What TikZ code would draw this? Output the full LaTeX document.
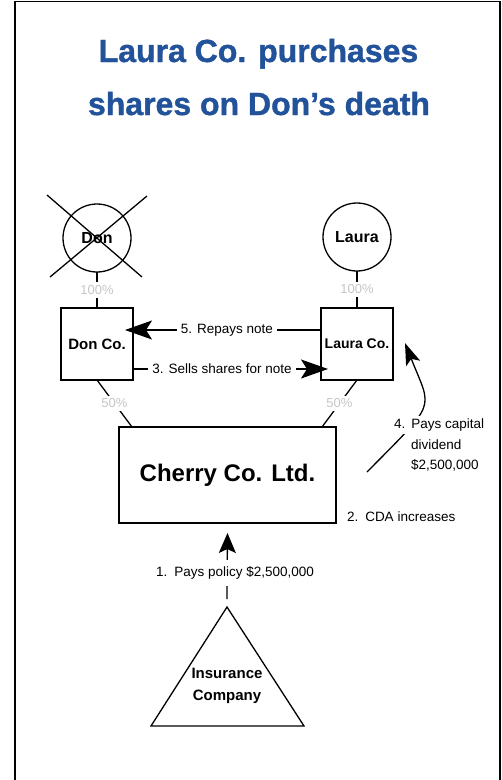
\documentclass[tikz,border=0pt]{standalone}
\usepackage{fontspec}
\setmainfont{Liberation Sans}
\newfontfamily\heavyfont{Liberation Sans}[BoldFeatures={FakeBold=1.2}]
\usetikzlibrary{arrows.meta}
\definecolor{titleblue}{HTML}{22539A}
\begin{document}
\begin{tikzpicture}[x=1pt,y=-1pt, line width=1.3pt,
  every node/.style={inner sep=0pt, outer sep=0pt},
  entity/.style={draw, circle, minimum size=68pt, font=\fontsize{16}{18}\selectfont\bfseries},
  company/.style={draw, minimum width=72pt, minimum height=72pt, font=\fontsize{15}{17}\selectfont\bfseries},
  lbl/.style={font=\fontsize{13.5}{16}\selectfont},
  gap/.style={fill=white, inner xsep=4pt, inner ysep=3pt},
  pct/.style={fill=white, text=gray!45, inner sep=3pt, font=\fontsize{13}{15}\selectfont},
  bigarrow/.style={-{Stealth[length=27pt,width=19pt,inset=6pt]}},
  midarrow/.style={-{Stealth[length=20pt,width=17pt,inset=4pt]}},
  curvearrow/.style={-{Stealth[length=22pt,width=15pt,inset=5pt]}},
  titlefont/.style={font=\fontsize{32}{38}\heavyfont\bfseries, text=titleblue}]

\useasboundingbox (0,0) rectangle (502,780);
\draw[line width=1.6pt] (15,782) -- (15,1.5) -- (500,1.5) -- (500,782);

% title
\node[titlefont, anchor=base] (t1) at (258.5,62) {Laura Co. purchases};
\node[titlefont, anchor=base] (t2) at (259,115) {shares on Don’s death};

% owners
\node[entity] (don) at (97,238) {Don};
\node[entity] (laura) at (357,237) {Laura};
\draw (47,195) -- (142,277) (147,196) -- (50,277);

% holding companies
\node[company] (donco) at (97,344) {Don Co.};
\node[company, font=\fontsize{14}{16}\selectfont\bfseries] (lauraco) at (357,344) {Laura Co.};

% operating company
\node[draw, minimum width=217pt, minimum height=96pt, font=\fontsize{24}{28}\selectfont\bfseries] (cherry) at (227.5,475) {Cherry Co. Ltd.};

% insurer
\coordinate (insapex) at (227,607);
\draw (insapex) -- (304,726) -- (151,726) -- cycle;
\node[font=\fontsize{15}{22}\selectfont\bfseries, align=center] (ins) at (227,686) {Insurance\\Company};

% ownership lines
\draw (don.south) -- (donco.north) node[pct, midway] (p1) {100\%};
\draw (laura.south) -- (lauraco.north) node[pct, midway] (p2) {100\%};
\draw (donco.south) -- ([xshift=13pt]cherry.north west) node[pct, midway] (p3) {50\%};
\draw (lauraco.south) -- ([xshift=-14pt]cherry.north east) node[pct, midway] (p4) {50\%};

% transactions
\draw[bigarrow] ([yshift=14pt]lauraco.west) -- ([xshift=-8pt,yshift=14pt]donco.east)
  node[lbl, gap, pos=0.48] (l5) {5. Repays note};
\draw[bigarrow] ([yshift=-25pt]donco.east) -- ([xshift=7pt,yshift=-25pt]lauraco.west)
  node[lbl, gap, pos=0.456] (l3) {3. Sells shares for note};
\draw[midarrow] ([yshift=8pt]insapex) -- ([yshift=-10pt]cherry.south);
\node[lbl, fill=white, inner xsep=3pt, inner ysep=7pt] (l1) at (235,573) {1.\hspace{7pt}Pays policy \$2,500,000};
\node[lbl, anchor=west] (l2) at (347,517) {2.\hspace{7pt}CDA increases};

\coordinate (c4s) at (367,472);
\coordinate (c4e) at (405,343);
\draw[curvearrow] (c4s) .. controls (438,400) and (432,411) .. (c4e);
\node[lbl, gap, anchor=west, inner xsep=2pt] (l4a) at (392,425) {4.\hspace{6pt}Pays capital};
\node[lbl, anchor=west] (l4b) at (411,445) {dividend};
\node[lbl, anchor=west] (l4c) at (411,465) {\$2,500,000};
\end{tikzpicture}
\end{document}
